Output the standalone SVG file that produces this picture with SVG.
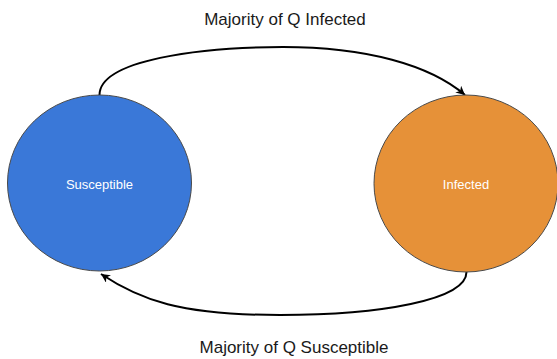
<svg xmlns="http://www.w3.org/2000/svg" width="557" height="359" viewBox="0 0 557 359">
<style>
.node{stroke:#4a4a4a;stroke-width:1}
.nlabel{font-family:"Liberation Sans",Arial,sans-serif;font-size:13px;fill:#ffffff;text-anchor:middle}
.elabel{font-family:"Liberation Sans",Arial,sans-serif;font-size:17px;fill:#1a1a1a;text-anchor:middle}
.edge{fill:none;stroke:#000;stroke-width:2}
</style>
<defs>
<marker id="arrow" viewBox="0 0 10 10" markerWidth="11" markerHeight="9" refX="10" refY="5" orient="auto" markerUnits="userSpaceOnUse">
<path d="M0 0 L10 5 L0 10 L3 5 z" fill="#000"/>
</marker>
</defs>
<rect width="557" height="359" fill="#ffffff"/>
<g id="connectors">
<path class="edge" d="M99.5 95 C 99.5 60, 200 47, 283 47 S 430 65, 465 95" marker-end="url(#arrow)"/>
<path class="edge" d="M466.5 272 C 466.5 300, 380 315, 280 315 S 140 300, 101 274" marker-end="url(#arrow)"/>
<text class="elabel" x="285" y="25">Majority of Q Infected</text>
<text class="elabel" x="294" y="353">Majority of Q Susceptible</text>
</g>
<g id="susceptible">
<ellipse class="node" cx="99.5" cy="183" rx="92" ry="88" fill="#3a78d8"/>
<text class="nlabel" x="99.5" y="189">Susceptible</text>
</g>
<g id="infected">
<ellipse class="node" cx="466" cy="183.5" rx="92" ry="88.5" fill="#e69138"/>
<text class="nlabel" x="466" y="189">Infected</text>
</g>
</svg>
